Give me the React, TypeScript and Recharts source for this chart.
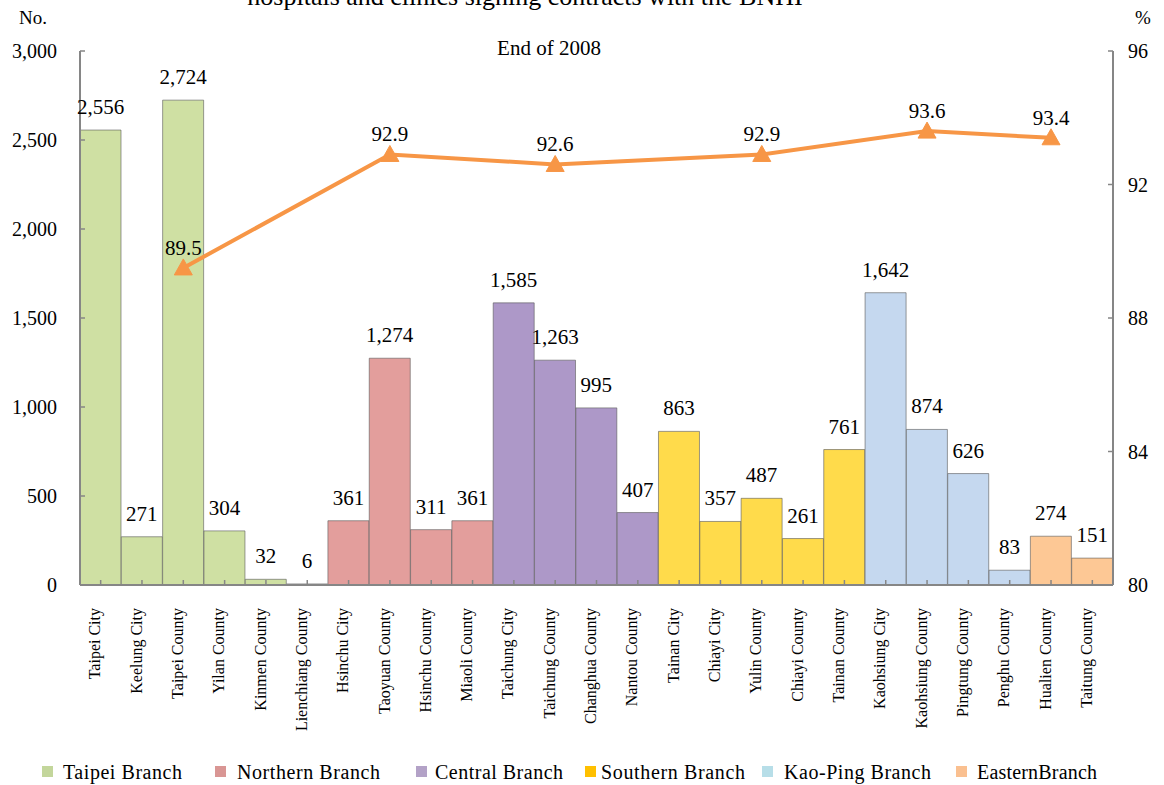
import React from 'react';
import { ComposedChart, Bar, Line, XAxis, YAxis, Cell, LabelList } from 'recharts';

const categories = [
  'Taipei City', 'Keelung City', 'Taipei County', 'Yilan County', 'Kinmen County', 'Lienchiang County',
  'Hsinchu City', 'Taoyuan County', 'Hsinchu County', 'Miaoli County',
  'Taichung City', 'Taichung County', 'Changhua County', 'Nantou County',
  'Tainan City', 'Chiayi City', 'Yulin County', 'Chiayi County', 'Tainan County',
  'Kaohsiung City', 'Kaohsiung County', 'Pingtung County', 'Penghu County',
  'Hualien County', 'Taitung County',
];
const counts = [
  2556, 271, 2724, 304, 32, 6,
  361, 1274, 311, 361,
  1585, 1263, 995, 407,
  863, 357, 487, 261, 761,
  1642, 874, 626, 83,
  274, 151,
];
const branchOfCategory = [0, 0, 0, 0, 0, 0, 1, 1, 1, 1, 2, 2, 2, 2, 3, 3, 3, 3, 3, 4, 4, 4, 4, 5, 5];
const branchNames = ['Taipei Branch', 'Northern Branch', 'Central Branch', 'Southern Branch', 'Kao-Ping Branch', 'EasternBranch'];
const branchBarColors = ['#CFE0A3', '#E39E9C', '#AD98C8', '#FFDB4B', '#C5D8EF', '#FDC895'];
const branchLegendColors = ['#C3D69B', '#D99694', '#B3A2C7', '#FFC000', '#B7DEE8', '#FAC090'];
const rateCategories = ['Taipei County', 'Taoyuan County', 'Taichung County', 'Yulin County', 'Kaohsiung County', 'Hualien County'];
const rates = [89.5, 92.9, 92.6, 92.9, 93.6, 93.4];
const leftTicks = [0, 500, 1000, 1500, 2000, 2500, 3000];
const rightTicks = [80, 84, 88, 92, 96];

const titleText = 'hospitals and clinics signing contracts with the BNHI';
const subtitleText = 'End of 2008';

const FONT = '"Liberation Serif", "Times New Roman", serif';

const data = categories.map((name, i) => {
  const r = rateCategories.indexOf(name);
  return { name, count: counts[i], rate: r >= 0 ? rates[r] : null, branch: branchOfCategory[i] };
});

const legendLayout = [
  { sx: 42, tx: 63, w: 119 },
  { sx: 215, tx: 237, w: 143 },
  { sx: 416, tx: 435, w: 128 },
  { sx: 585, tx: 601, w: 144 },
  { sx: 762, tx: 784, w: 147 },
  { sx: 956, tx: 977, w: 120 },
];

const fmt = (v: any) => (v == null ? '' : Number(v).toLocaleString('en-US'));

const XTick = (props: any) => {
  const { x, payload } = props;
  return (
    <text
      x={0}
      y={0}
      transform={`translate(${x - 6},${608}) rotate(-90)`}
      textAnchor="end"
      dy="0.35em"
      fontSize={16}
      style={{ fontFamily: FONT }}
      fill="#000"
    >
      {payload.value}
    </text>
  );
};

const LeftTick = (props: any) => {
  const { y, payload } = props;
  return (
    <text x={57} y={y} dy="0.35em" textAnchor="end" fontSize={20} style={{ fontFamily: FONT }} fill="#000">
      {fmt(payload.value)}
    </text>
  );
};

const RightTick = (props: any) => {
  const { y, payload } = props;
  return (
    <text x={1128} y={y} dy="0.35em" textAnchor="start" fontSize={20} style={{ fontFamily: FONT }} fill="#000">
      {payload.value}
    </text>
  );
};

const Triangle = (props: any) => {
  const { cx, cy, payload } = props;
  if (payload == null || payload.rate == null || cx == null || cy == null) return <g key={props.key} />;
  return (
    <polygon
      key={props.key}
      points={`${cx},${cy - 9} ${cx - 9},${cy + 7} ${cx + 9},${cy + 7}`}
      fill="#F79646"
      stroke="#F79646"
    />
  );
};

const BarLabel = (props: any) => {
  const { x, y, width, value } = props;
  if (value == null) return null;
  return (
    <text x={x + width / 2} y={y - 16} textAnchor="middle" fontSize={21} style={{ fontFamily: FONT }} fill="#000">
      {fmt(value)}
    </text>
  );
};

const LineLabel = (props: any) => {
  const { x, y, value } = props;
  if (value == null) return null;
  return (
    <text x={x} y={y - 13} textAnchor="middle" fontSize={21} style={{ fontFamily: FONT }} fill="#000">
      {Number(value).toFixed(1)}
    </text>
  );
};

export default function App() {
  return (
    <div style={{ position: 'absolute', left: 0, top: 0, width: 1164, height: 785, background: '#fff', fontFamily: FONT }}>
      <ComposedChart
        width={1164}
        height={785}
        data={data}
        margin={{ top: 51, right: 0, bottom: 0, left: 0 }}
        barCategoryGap={0}
        barGap={0}
        style={{ fontFamily: FONT }}
      >
        <XAxis
          dataKey="name"
          interval={0}
          height={200}
          axisLine={{ stroke: '#868686', strokeWidth: 2 }}
          tickLine={{ stroke: '#868686', strokeWidth: 1.5 }}
          tickSize={-5}
          tickMargin={28}
          tick={<XTick />}
        />
        <YAxis
          yAxisId="left"
          width={80}
          domain={[0, 3000]}
          ticks={leftTicks}
          axisLine={{ stroke: '#868686', strokeWidth: 2 }}
          tickLine={{ stroke: '#868686', strokeWidth: 1.5 }}
          tickSize={-5}
          tickMargin={25}
          tick={<LeftTick />}
        />
        <YAxis
          yAxisId="right"
          orientation="right"
          width={51}
          domain={[80, 96]}
          ticks={rightTicks}
          axisLine={{ stroke: '#868686', strokeWidth: 2 }}
          tickLine={{ stroke: '#868686', strokeWidth: 1.5 }}
          tickSize={-5}
          tickMargin={20}
          tick={<RightTick />}
        />
        <Bar yAxisId="left" dataKey="count" isAnimationActive={false}>
          {data.map((d, i) => (
            <Cell key={i} fill={branchBarColors[d.branch]} stroke="#5a5a5a" strokeOpacity={0.6} strokeWidth={1} />
          ))}
          <LabelList dataKey="count" content={<BarLabel />} />
        </Bar>
        <Line
          yAxisId="right"
          dataKey="rate"
          connectNulls
          stroke="#F79646"
          strokeWidth={4}
          dot={<Triangle />}
          activeDot={false}
          isAnimationActive={false}
        >
          <LabelList dataKey="rate" content={<LineLabel />} />
        </Line>
      </ComposedChart>
      <svg
        width={1164}
        height={785}
        style={{ position: 'absolute', left: 0, top: 0, pointerEvents: 'none', fontFamily: FONT }}
      >
        <text x={525} y={5} textAnchor="middle" fontSize={26} fill="#000">{titleText}</text>
        <text x={549} y={55} textAnchor="middle" fontSize={21} fill="#000">{subtitleText}</text>
        <text x={33} y={24} textAnchor="middle" fontSize={19} fill="#000">No.</text>
        <text x={1143} y={24} textAnchor="middle" fontSize={19} fill="#000">%</text>
        {branchNames.map((b, i) => (
          <g key={b}>
            <rect x={legendLayout[i].sx} y={766} width={11} height={11} fill={branchLegendColors[i]} />
            <text
              x={legendLayout[i].tx}
              y={779}
              fontSize={20}
              textLength={legendLayout[i].w}
              lengthAdjust="spacing"
              fill="#000"
            >
              {b}
            </text>
          </g>
        ))}
      </svg>
    </div>
  );
}
